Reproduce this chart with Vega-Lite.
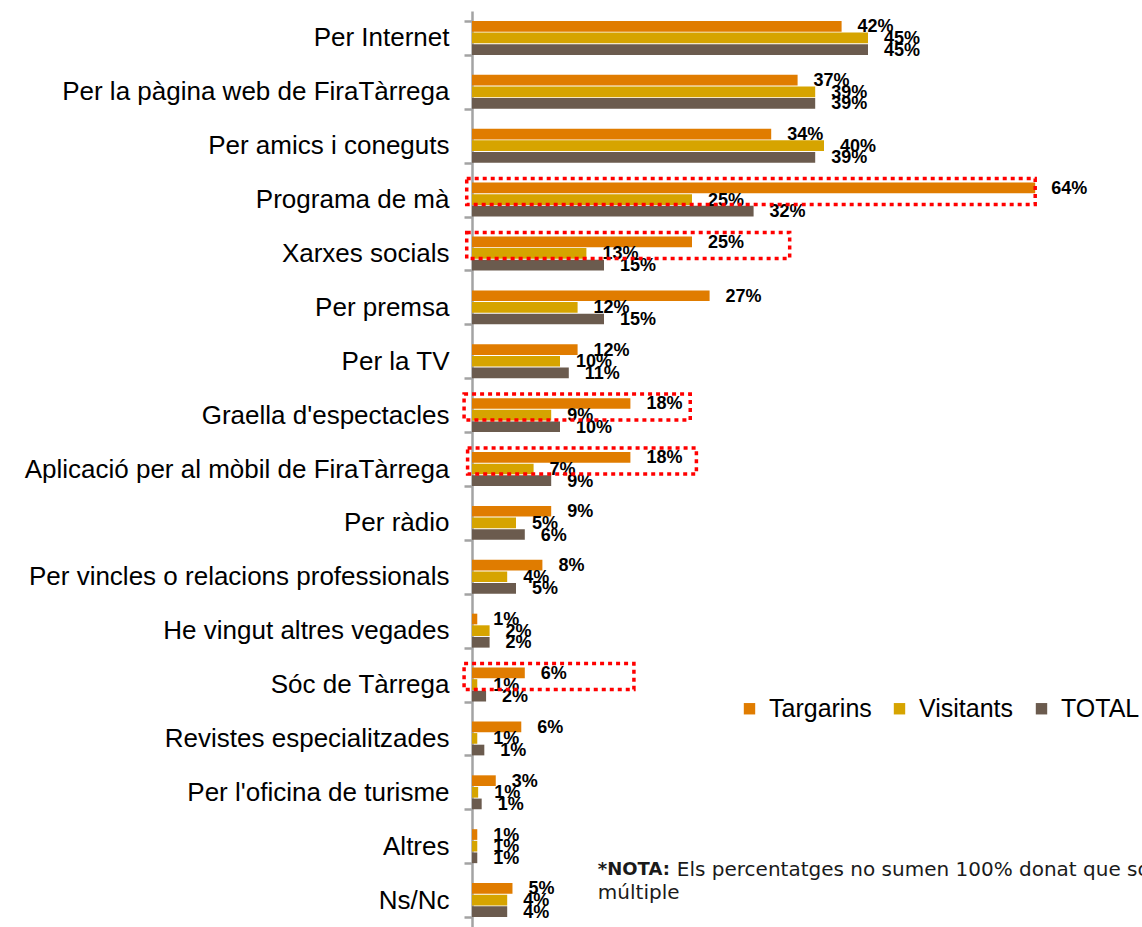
{
  "$schema": "https://vega.github.io/schema/vega-lite/v6.json",
  "width": 616,
  "height": 916,
  "autosize": {"type": "none"},
  "padding": {"left": 472, "top": 11, "right": 54, "bottom": 0},
  "background": "white",
  "config": {"view": {"stroke": null}, "font": "Liberation Sans"},
  "datasets": {
    "respostes": [
      {"categoria": "Per Internet", "grup": "Targarins", "valor": 0.42},
      {"categoria": "Per Internet", "grup": "Visitants", "valor": 0.45},
      {"categoria": "Per Internet", "grup": "TOTAL", "valor": 0.45},
      {"categoria": "Per la pàgina web de FiraTàrrega", "grup": "Targarins", "valor": 0.37},
      {"categoria": "Per la pàgina web de FiraTàrrega", "grup": "Visitants", "valor": 0.39},
      {"categoria": "Per la pàgina web de FiraTàrrega", "grup": "TOTAL", "valor": 0.39},
      {"categoria": "Per amics i coneguts", "grup": "Targarins", "valor": 0.34},
      {"categoria": "Per amics i coneguts", "grup": "Visitants", "valor": 0.40},
      {"categoria": "Per amics i coneguts", "grup": "TOTAL", "valor": 0.39},
      {"categoria": "Programa de mà", "grup": "Targarins", "valor": 0.64},
      {"categoria": "Programa de mà", "grup": "Visitants", "valor": 0.25},
      {"categoria": "Programa de mà", "grup": "TOTAL", "valor": 0.32},
      {"categoria": "Xarxes socials", "grup": "Targarins", "valor": 0.25},
      {"categoria": "Xarxes socials", "grup": "Visitants", "valor": 0.13},
      {"categoria": "Xarxes socials", "grup": "TOTAL", "valor": 0.15},
      {"categoria": "Per premsa", "grup": "Targarins", "valor": 0.27},
      {"categoria": "Per premsa", "grup": "Visitants", "valor": 0.12},
      {"categoria": "Per premsa", "grup": "TOTAL", "valor": 0.15},
      {"categoria": "Per la TV", "grup": "Targarins", "valor": 0.12},
      {"categoria": "Per la TV", "grup": "Visitants", "valor": 0.10},
      {"categoria": "Per la TV", "grup": "TOTAL", "valor": 0.11},
      {"categoria": "Graella d'espectacles", "grup": "Targarins", "valor": 0.18},
      {"categoria": "Graella d'espectacles", "grup": "Visitants", "valor": 0.09},
      {"categoria": "Graella d'espectacles", "grup": "TOTAL", "valor": 0.10},
      {"categoria": "Aplicació per al mòbil de FiraTàrrega", "grup": "Targarins", "valor": 0.18},
      {"categoria": "Aplicació per al mòbil de FiraTàrrega", "grup": "Visitants", "valor": 0.07},
      {"categoria": "Aplicació per al mòbil de FiraTàrrega", "grup": "TOTAL", "valor": 0.09},
      {"categoria": "Per ràdio", "grup": "Targarins", "valor": 0.09},
      {"categoria": "Per ràdio", "grup": "Visitants", "valor": 0.05},
      {"categoria": "Per ràdio", "grup": "TOTAL", "valor": 0.06},
      {"categoria": "Per vincles o relacions professionals", "grup": "Targarins", "valor": 0.08},
      {"categoria": "Per vincles o relacions professionals", "grup": "Visitants", "valor": 0.04},
      {"categoria": "Per vincles o relacions professionals", "grup": "TOTAL", "valor": 0.05},
      {"categoria": "He vingut altres vegades", "grup": "Targarins", "valor": 0.006},
      {"categoria": "He vingut altres vegades", "grup": "Visitants", "valor": 0.02},
      {"categoria": "He vingut altres vegades", "grup": "TOTAL", "valor": 0.02},
      {"categoria": "Sóc de Tàrrega", "grup": "Targarins", "valor": 0.06},
      {"categoria": "Sóc de Tàrrega", "grup": "Visitants", "valor": 0.006},
      {"categoria": "Sóc de Tàrrega", "grup": "TOTAL", "valor": 0.016},
      {"categoria": "Revistes especialitzades", "grup": "Targarins", "valor": 0.056},
      {"categoria": "Revistes especialitzades", "grup": "Visitants", "valor": 0.006},
      {"categoria": "Revistes especialitzades", "grup": "TOTAL", "valor": 0.014},
      {"categoria": "Per l'oficina de turisme", "grup": "Targarins", "valor": 0.027},
      {"categoria": "Per l'oficina de turisme", "grup": "Visitants", "valor": 0.007},
      {"categoria": "Per l'oficina de turisme", "grup": "TOTAL", "valor": 0.011},
      {"categoria": "Altres", "grup": "Targarins", "valor": 0.006},
      {"categoria": "Altres", "grup": "Visitants", "valor": 0.006},
      {"categoria": "Altres", "grup": "TOTAL", "valor": 0.006},
      {"categoria": "Ns/Nc", "grup": "Targarins", "valor": 0.046},
      {"categoria": "Ns/Nc", "grup": "Visitants", "valor": 0.04},
      {"categoria": "Ns/Nc", "grup": "TOTAL", "valor": 0.04}
    ],
    "destacats": [
      {"categoria": "Programa de mà", "inici": -0.006, "fi": 0.64},
      {"categoria": "Xarxes socials", "inici": -0.006, "fi": 0.361},
      {"categoria": "Graella d'espectacles", "inici": -0.009, "fi": 0.248},
      {"categoria": "Aplicació per al mòbil de FiraTàrrega", "inici": -0.005, "fi": 0.255},
      {"categoria": "Sóc de Tàrrega", "inici": -0.009, "fi": 0.184}
    ]
  },
  "layer": [
    {
      "data": {"name": "respostes"},
      "mark": {"type": "bar"},
      "encoding": {
        "y": {
          "field": "categoria", "type": "nominal",
          "scale": {
            "domain": ["Per Internet", "Per la pàgina web de FiraTàrrega", "Per amics i coneguts", "Programa de mà", "Xarxes socials", "Per premsa", "Per la TV", "Graella d'espectacles", "Aplicació per al mòbil de FiraTàrrega", "Per ràdio", "Per vincles o relacions professionals", "He vingut altres vegades", "Sóc de Tàrrega", "Revistes especialitzades", "Per l'oficina de turisme", "Altres", "Ns/Nc"],
            "paddingInner": 0.37, "paddingOuter": 0.185
          },
          "axis": {
            "title": null, "grid": false,
            "domain": true, "domainColor": "#a3a3a3", "domainWidth": 2.5,
            "ticks": true, "tickBand": "extent", "tickColor": "#a3a3a3", "tickWidth": 2.5, "tickSize": 8,
            "labelFont": "Liberation Sans", "labelFontSize": 26, "labelColor": "#000000",
            "labelPadding": 15, "labelLimit": 0
          }
        },
        "yOffset": {
          "field": "grup", "type": "nominal",
          "scale": {"domain": ["Targarins", "Visitants", "TOTAL"], "paddingInner": 0.08, "paddingOuter": 0}
        },
        "x": {"field": "valor", "type": "quantitative", "scale": {"domain": [0, 0.7], "nice": false}, "axis": null},
        "color": {
          "field": "grup", "type": "nominal",
          "scale": {"domain": ["Targarins", "Visitants", "TOTAL"], "range": ["#E07C00", "#D6A400", "#6B5B4E"]},
          "legend": {
            "title": null, "orient": "none", "direction": "horizontal",
            "legendX": 265, "legendY": 685, "padding": 0,
            "symbolType": "square", "symbolSize": 130, "symbolStrokeWidth": 0,
            "labelFont": "Liberation Sans", "labelFontSize": 25, "labelColor": "#000000",
            "labelOffset": 7, "columnPadding": 15
          }
        }
      }
    },
    {
      "data": {"name": "respostes"},
      "mark": {"type": "text", "align": "left", "baseline": "middle", "dx": 16, "dy": 1, "fontWeight": "bold", "fontSize": 18, "font": "Liberation Sans", "color": "#000000"},
      "encoding": {
        "y": {"field": "categoria", "type": "nominal"},
        "yOffset": {"field": "grup", "type": "nominal"},
        "x": {"field": "valor", "type": "quantitative", "axis": null},
        "text": {"field": "valor", "type": "quantitative", "format": ".0%"}
      }
    },
    {
      "data": {"name": "destacats"},
      "mark": {"type": "bar", "filled": false, "color": "#FF0000", "strokeWidth": 3.5, "strokeDash": [4, 4], "height": 26, "yOffset": -8},
      "encoding": {
        "y": {"field": "categoria", "type": "nominal"},
        "x": {"field": "inici", "type": "quantitative", "axis": null},
        "x2": {"field": "fi"}
      }
    },
    {
      "data": {"values": [{"nota": "*NOTA:"}]},
      "mark": {"type": "text", "align": "left", "baseline": "middle", "dy": -30, "fontWeight": "bold", "fontSize": 18, "font": "DejaVu Sans", "color": "#1a1a1a"},
      "encoding": {
        "y": {"datum": "Ns/Nc", "type": "nominal"},
        "x": {"datum": 0.143, "type": "quantitative"},
        "text": {"field": "nota"}
      }
    },
    {
      "data": {"values": [{"nota": "Els percentatges no sumen 100% donat que són de resposta"}]},
      "mark": {"type": "text", "align": "left", "baseline": "middle", "dy": -30, "dx": 79, "fontSize": 20, "font": "DejaVu Sans", "color": "#1a1a1a"},
      "encoding": {
        "y": {"datum": "Ns/Nc", "type": "nominal"},
        "x": {"datum": 0.143, "type": "quantitative"},
        "text": {"field": "nota"}
      }
    },
    {
      "data": {"values": [{"nota": "múltiple"}]},
      "mark": {"type": "text", "align": "left", "baseline": "middle", "dy": -7, "fontSize": 20, "font": "DejaVu Sans", "color": "#1a1a1a"},
      "encoding": {
        "y": {"datum": "Ns/Nc", "type": "nominal"},
        "x": {"datum": 0.143, "type": "quantitative"},
        "text": {"field": "nota"}
      }
    }
  ]
}
